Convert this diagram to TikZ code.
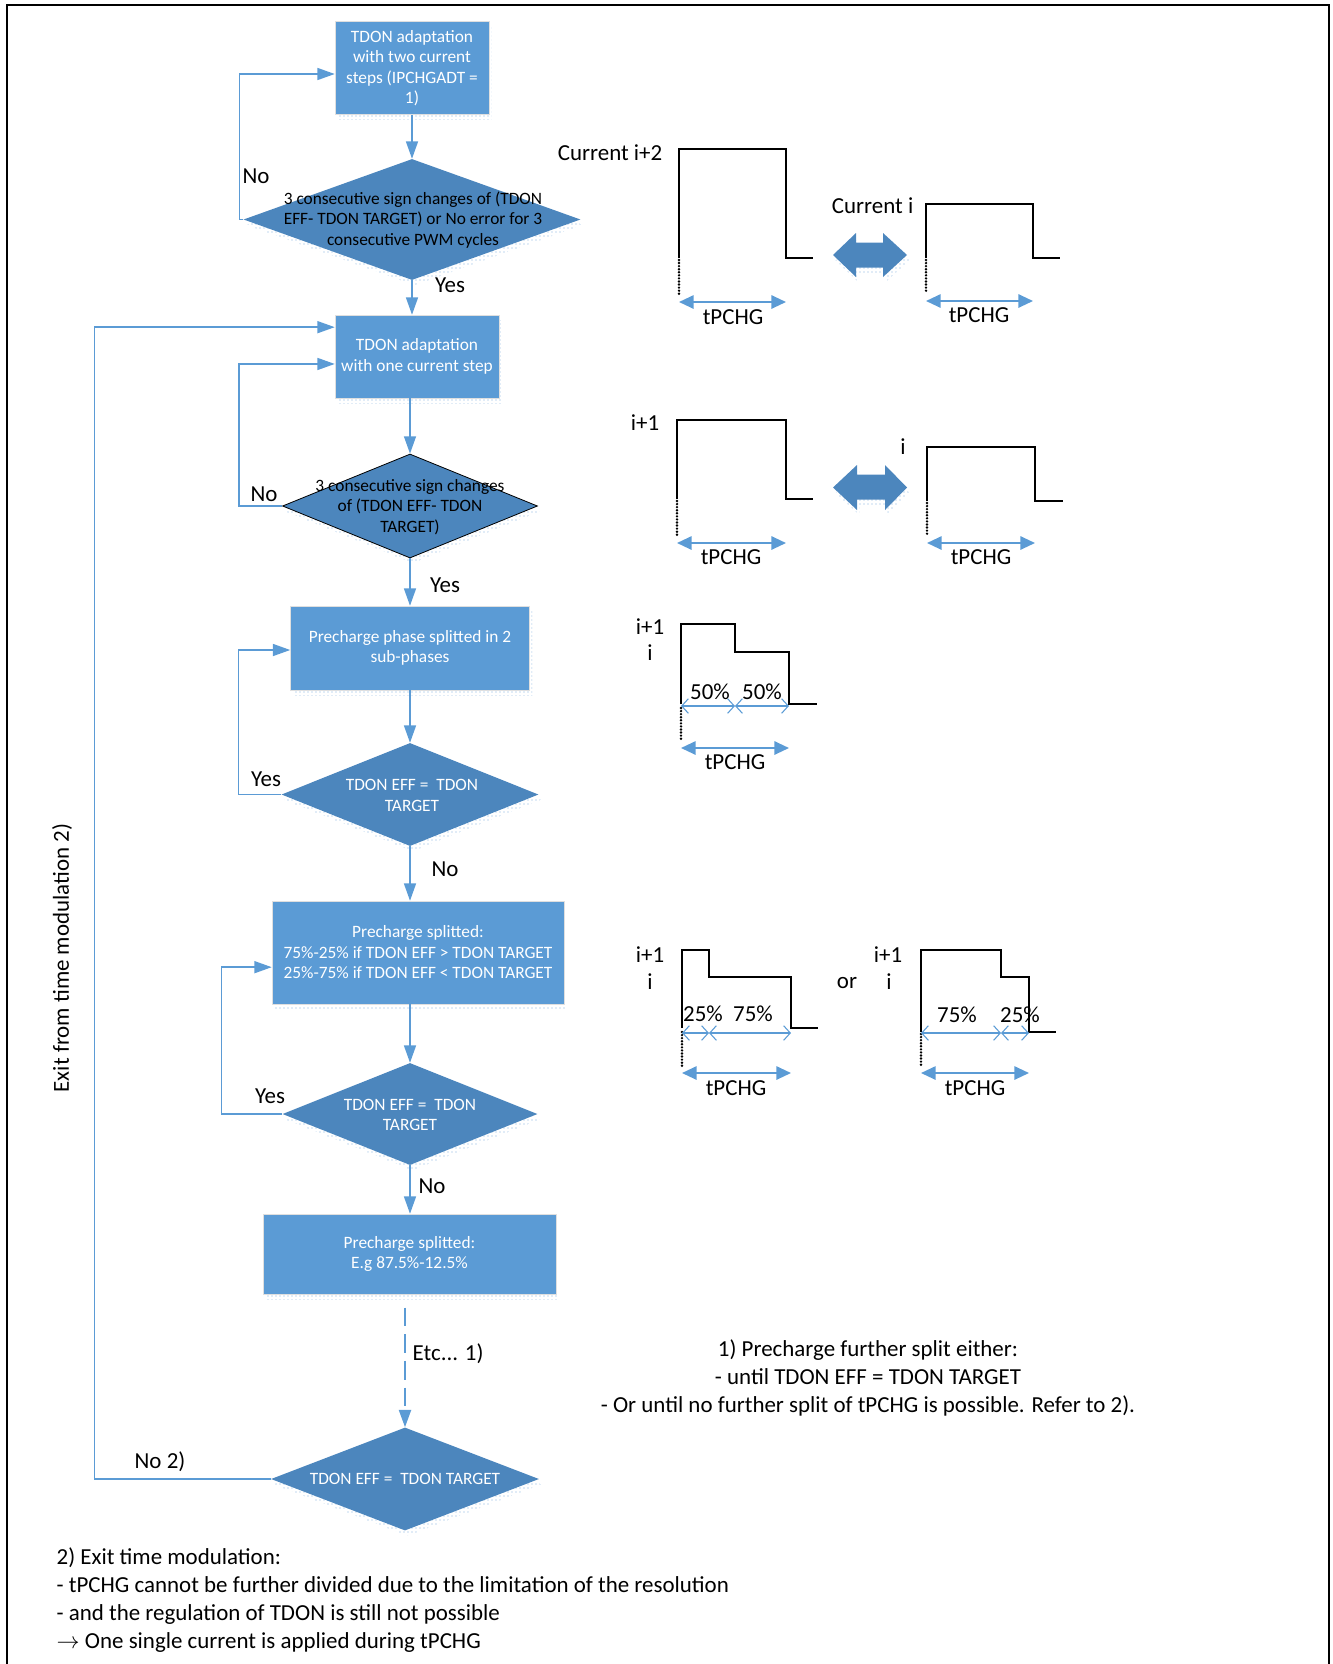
\documentclass[tikz,border=0pt]{standalone}
\usepackage{fontspec}
\setmainfont{Carlito}
\usetikzlibrary{arrows.meta,positioning,shapes.geometric,shadows,patterns}
\definecolor{boxblue}{RGB}{91,155,213}
\definecolor{diablue}{RGB}{76,134,189}
\definecolor{lineblue}{RGB}{91,155,213}

\begin{document}
\begin{tikzpicture}[
  x=0.75pt, y=-0.75pt,
  font=\fontsize{17.2}{20.8}\selectfont,
  dotshadow/.style={general shadow={shadow xshift=2pt, shadow yshift=-4pt, pattern=dots, pattern color=lineblue!80}},
  flowbox/.style={draw=white!75!gray, fill=boxblue, text=white, align=center, inner sep=0pt, dotshadow, font=\fontsize{13}{15.4}\selectfont},
  decision/.style={diamond, fill=diablue, inner sep=0pt, dotshadow},
  diatext/.style={align=center, text=white, font=\fontsize{13}{15.4}\selectfont},
  flow/.style={draw=lineblue, line width=1.1pt, -{Triangle[length=13pt,width=9pt]}},
  wave/.style={draw=black, line width=0.8pt},
  tailline/.style={draw=black, line width=2pt, line cap=round, dash pattern=on 0pt off 2.3pt},
  span/.style={draw=lineblue, line width=1.5pt, {Triangle[length=11pt,width=10pt]}-{Triangle[length=11pt,width=10pt]}},
  part/.style={draw=lineblue, line width=0.8pt, {Straight Barb[length=5pt,width=11pt]}-{Straight Barb[length=5pt,width=11pt]}},
  swap/.style={fill=diablue, dotshadow}
]
\useasboundingbox (0,0) rectangle (1333,1664);
\draw[line width=1.1pt] (7,1664) -- (7,5) -- (1329,5) -- (1329,1664);

% flow chart
\node[flowbox, minimum width=115.5pt, minimum height=69.75pt] (adapt2) at (412,68) {TDON adaptation\\with two current\\steps (IPCHGADT =\\1)};
\node[decision, minimum width=252.75pt, minimum height=90.75pt] (sign3a) at (412,219.5) {};
\node[diatext, text=black] at (413,220) {3 consecutive sign changes of (TDON\\EFF- TDON TARGET) or No error for 3\\consecutive PWM cycles};
\node[flowbox, minimum width=123pt, minimum height=62.25pt] (adapt1) at (417,356.5) {TDON adaptation\\with one current step};
\node[decision, draw=black, line width=0.6pt, minimum width=191.25pt, minimum height=78pt] (sign3b) at (410,506) {};
\node[diatext, text=black] at (410,507) {3 consecutive sign changes\\of (TDON EFF- TDON\\TARGET)};
\node[flowbox, minimum width=179.25pt, minimum height=63pt] (split2) at (410,648) {Precharge phase splitted in 2\\sub-phases};
\node[decision, minimum width=192.75pt, minimum height=77.25pt] (eqa) at (410,794.5) {};
\node[diatext] at (412,795.5) {TDON EFF =~ TDON\\TARGET};
\node[flowbox, minimum width=219pt, minimum height=77.25pt] (split4) at (418,952.5) {Precharge splitted:\\75\%-25\% if TDON EFF > TDON TARGET\\25\%-75\% if TDON EFF < TDON TARGET};
\node[decision, minimum width=191.25pt, minimum height=76.5pt] (eqb) at (410,1114) {};
\node[diatext] at (410,1115) {TDON EFF =~ TDON\\TARGET};
\node[flowbox, minimum width=219.75pt, minimum height=60pt] (split8) at (409.5,1254) {Precharge splitted:\\E.g 87.5\%-12.5\%};
\node[decision, minimum width=201pt, minimum height=77.25pt] (eqc) at (405,1479) {};
\node[diatext] at (405,1479) {TDON EFF =~ TDON TARGET};

\draw[flow] (adapt2.south) -- (sign3a.north);
\draw[flow] (sign3a.south) -- (sign3a.south |- adapt1.north);
\draw[flow] (sign3b.north |- adapt1.south) -- (sign3b.north);
\draw[flow] (sign3b.south) -- (sign3b.south |- split2.north);
\draw[flow] (split2.south) -- (eqa.north);
\draw[flow] (eqa.south) -- (eqa.south |- split4.north);
\draw[flow] (eqb.north |- split4.south) -- (eqb.north);
\draw[flow] (eqb.south) -- (eqb.south |- split8.north);
\draw[flow, line width=1.6pt, dash pattern=on 14pt off 6pt] ([yshift=-10pt]eqc.north |- split8.south) -- (eqc.north);

\draw[flow] (sign3a.west) -- ++(-4,0) |- ([yshift=-4.5pt]adapt2.west);
\draw[flow] (sign3b.west) -- ++(-43,0) |- ([yshift=-5.6pt]adapt1.west);
\draw[flow] (eqa.west) -- ++(-43,0) |- ([yshift=-1.5pt]split2.west);
\draw[flow] (eqb.west) -- ++(-61,0) |- ([yshift=-11pt]split4.west);
\draw[flow] (eqc.west) -- ++(-176,0) |- ([yshift=22pt]adapt1.west);

\node (no1) at (256,176) {No};
\node (yes1) at (450,285) {Yes};
\node (no2) at (264,494) {No};
\node (yes2) at (445,585) {Yes};
\node (yes3) at (266,779) {Yes};
\node (no3) at (445,869) {No};
\node (yes4) at (270,1096) {Yes};
\node (no4) at (432,1186) {No};
\node[anchor=west] (etc) at (408,1354) {Etc... 1)};
\node (no5) at (160,1462) {No 2)};
\node[rotate=90] (exit) at (62,958) {Exit from time modulation 2)};

% notes
\node[align=center] (note1) at (868,1378) {1) Precharge further split either:\\- until TDON EFF = TDON TARGET\\- Or until no further split of tPCHG is possible. Refer to 2).};
\node[anchor=west, align=left, font=\fontsize{17.2}{21}\selectfont] (note2) at (52,1600) {2) Exit time modulation:\\- tPCHG cannot be further divided due to the limitation of the resolution\\- and the regulation of TDON is still not possible\\$\rightarrow$ One single current is applied during tPCHG};

% current i+2 / current i
\draw[wave] (679,258) -- (679,149) -- (786,149) -- (786,258) -- (813,258);
\draw[tailline] (679,260) -- (679,295);
\draw[span] (679,302) -- (786,302);
\node[anchor=east] at (667,153) {Current i+2};
\node at (733,317) {tPCHG};
\fill[swap, shift={(870,255)}] (-37,0) -- (-14,-22) -- (-14,-12.5) -- (13,-12.5) -- (13,-22) -- (37,0) -- (13,22) -- (13,12.5) -- (-14,12.5) -- (-14,22) -- cycle;
\draw[wave] (926,258) -- (926,204) -- (1033,204) -- (1033,258) -- (1060,258);
\draw[tailline] (926,260) -- (926,293);
\draw[span] (926,301) -- (1033,301);
\node[anchor=east] at (918,206) {Current i};
\node at (979,315) {tPCHG};

% i+1 / i
\draw[wave] (677,499) -- (677,420) -- (786,420) -- (786,499) -- (813,499);
\draw[tailline] (677,501) -- (677,535);
\draw[span] (677,543) -- (786,543);
\node at (645,423) {i+1};
\node at (731,557) {tPCHG};
\fill[swap, shift={(870,487.5)}] (-37,0) -- (-13,-22.5) -- (-13,-13) -- (15,-13) -- (15,-22.5) -- (37,0) -- (15,22.5) -- (15,12) -- (-13,12) -- (-13,22.5) -- cycle;
\draw[wave] (927,501) -- (927,447) -- (1035,447) -- (1035,501) -- (1063,501);
\draw[tailline] (927,503) -- (927,535);
\draw[span] (927,543) -- (1035,543);
\node at (903,447) {i};
\node at (981,557) {tPCHG};

% 50% / 50%
\draw[wave] (681,704) -- (681,624) -- (735,624) -- (735,652) -- (789,652) -- (789,704) -- (817,704);
\draw[tailline] (681,708) -- (681,741);
\draw[part] (681,706) -- (735,706);
\draw[part] (735,706) -- (789,706);
\node at (710,692) {50\%};
\node at (762,692) {50\%};
\draw[span] (681,748) -- (789,748);
\node at (735,762) {tPCHG};
\node at (650,627) {i+1};
\node at (650,653) {i};

% 25% / 75%
\draw[wave] (682,1028) -- (682,950) -- (709,950) -- (709,977) -- (791,977) -- (791,1028) -- (818,1028);
\draw[tailline] (682,1032) -- (682,1067);
\draw[part] (682,1033) -- (709,1033);
\draw[part] (709,1033) -- (791,1033);
\node at (703,1014) {25\%};
\node at (753,1014) {75\%};
\draw[span] (682,1073) -- (791,1073);
\node at (736,1088) {tPCHG};
\node at (650,955) {i+1};
\node at (650,982) {i};
\node at (847,983) {or};

% 75% / 25%
\draw[wave] (921,1032) -- (921,950) -- (1001,950) -- (1001,977) -- (1029,977) -- (1029,1032) -- (1056,1032);
\draw[tailline] (921,1034) -- (921,1065);
\draw[part] (921,1033) -- (1001,1033);
\draw[part] (1001,1033) -- (1029,1033);
\node at (957,1015) {75\%};
\node at (1020,1015) {25\%};
\draw[span] (921,1073) -- (1029,1073);
\node at (975,1088) {tPCHG};
\node at (888,955) {i+1};
\node at (889,982) {i};
\end{tikzpicture}
\end{document}
